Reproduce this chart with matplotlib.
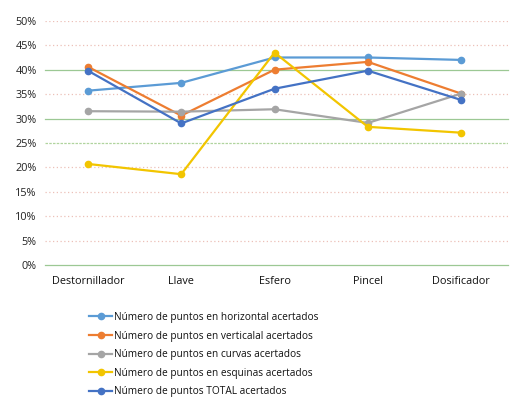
import matplotlib.pyplot as plt

plt.rcParams['font.family'] = ['Open Sans', 'DejaVu Sans']

categorias = ['Destornillador', 'Llave', 'Esfero', 'Pincel', 'Dosificador']
horizontal = [35.7, 37.3, 42.5, 42.5, 42.0]
vertical = [40.6, 30.6, 40.0, 41.6, 35.1]
curvas = [31.5, 31.4, 31.9, 29.1, 35.1]
esquinas = [20.7, 18.6, 43.5, 28.3, 27.1]
total = [39.8, 29.0, 36.1, 39.8, 33.8]

series = [
    ('Número de puntos en horizontal acertados', horizontal, '#5b9bd5'),
    ('Número de puntos en verticalal acertados', vertical, '#ed7d31'),
    ('Número de puntos en curvas acertados', curvas, '#a5a5a5'),
    ('Número de puntos en esquinas acertados', esquinas, '#f2c500'),
    ('Número de puntos TOTAL acertados', total, '#4472c4'),
]

fig = plt.figure(figsize=(5.14, 4.09), dpi=100)
ax = fig.add_axes([0.0875, 0.352, 0.9005, 0.597])

# lineas de cuadricula (algunas verdes, otras punteadas)
for v in range(0, 55, 5):
    if v in (0, 30, 40):
        ax.axhline(v, color='#9cc894', lw=0.9, zorder=0, clip_on=False)
    elif v == 25:
        ax.axhline(v, color='#b0d49e', lw=0.9, ls=(0, (2, 1)), zorder=0)
    else:
        ax.axhline(v, color='#ecc0b8', lw=0.9, ls=(0, (1, 2)), zorder=0)

x = range(len(categorias))
for nombre, vals, color in series:
    ax.plot(x, vals, color=color, lw=1.6, marker='o', ms=4.5, label=nombre)

ax.set_ylim(0, 50)
ax.set_xlim(-0.46, 4.5)
ax.set_yticks(range(0, 55, 5))
ax.set_yticklabels([f'{v}%' for v in range(0, 55, 5)], fontsize=7.8, color='#222222')
ax.set_xticks(list(x))
ax.set_xticklabels(categorias, fontsize=7.8, color='#111111')
ax.tick_params(length=0, pad=6)
ax.tick_params(axis='x', pad=8)
for s in ax.spines.values():
    s.set_visible(False)

leg = fig.legend(loc='upper left', bbox_to_anchor=(0.165, 0.247), frameon=False,
                 fontsize=7.3, handlelength=2.3, handletextpad=0.15,
                 labelspacing=0.75, borderaxespad=0)
for t in leg.get_texts():
    t.set_color('#111111')

fig.savefig('out.png', dpi=100, facecolor='white')
